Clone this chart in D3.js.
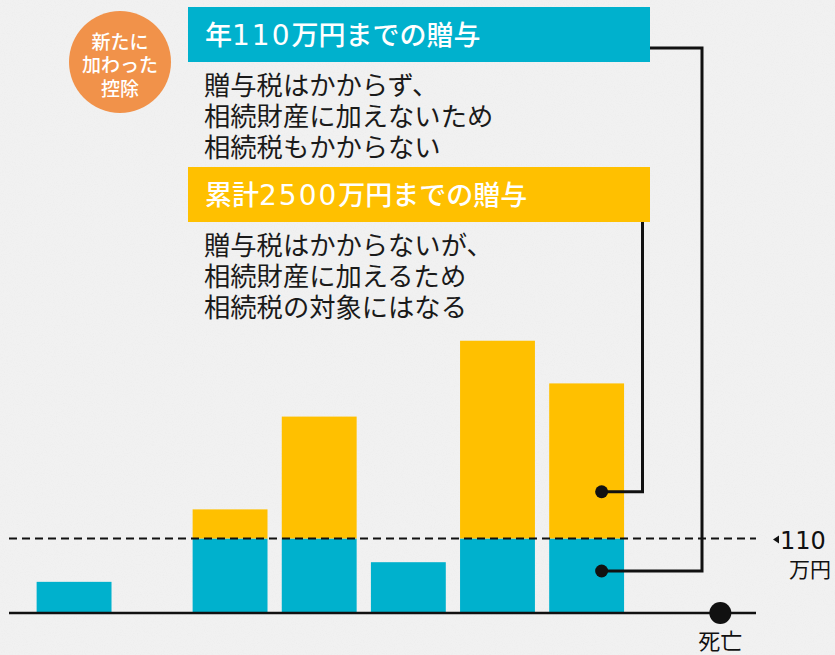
<!DOCTYPE html>
<html>
<head>
<meta charset="utf-8">
<script src="https://cdn.jsdelivr.net/npm/d3@7"></script>
<style>
  html, body { margin: 0; padding: 0; background: #f1f1f1; }
  svg { display: block; font-family: "Noto Sans CJK JP", "Noto Sans", sans-serif; }
</style>
</head>
<body>
<div id="chart"></div>
<script>
// gift timing (years on the timeline) and amounts (万円)
const giftTimes = [0.25, 2, 3, 4, 5, 6];
const annualPart = [46, 110, 110, 75, 110, 110];     // 年110万円までの贈与
const cumulativePart = [0, 43, 180, 0, 292, 229];    // 累計2500万円までの贈与
const deathTime = 7.5;
const thresholdValue = 110;
const thresholdLabel = ["110", "万円"];

const annualTitle = "年110万円までの贈与";
const annualLines = ["贈与税はかからず、", "相続財産に加えないため", "相続税もかからない"];
const cumulTitle = "累計2500万円までの贈与";
const cumulLines = ["贈与税はかからないが、", "相続財産に加えるため", "相続税の対象にはなる"];
const badgeLines = ["新たに", "加わった", "控除"];
const deathLabel = "死亡";
// points on the last bar the callouts point at
const pointerValues = { annual: 62, cumulative: 179 };

const width = 835, height = 655;
const blue = "#00b1cd", yellow = "#ffc000", orange = "#f1924a";
const digitFont = "'DejaVu Sans', 'Noto Sans', sans-serif";

const svg = d3.select("#chart").append("svg")
  .attr("width", width)
  .attr("height", height);

// paper-ish background
const defs = svg.append("defs");
const f = defs.append("filter").attr("id", "paper");
f.append("feTurbulence").attr("type", "fractalNoise").attr("baseFrequency", 0.9).attr("numOctaves", 2).attr("seed", 3);
f.append("feColorMatrix").attr("type", "matrix")
  .attr("values", "0 0 0 0 0.55  0 0 0 0 0.55  0 0 0 0 0.55  0 0 0 -1.6 0.9");
svg.append("rect").attr("width", width).attr("height", height).attr("fill", "#f1f1f1");
svg.append("rect").attr("width", width).attr("height", height).attr("filter", "url(#paper)").attr("opacity", 0.1);

// scales
const x = d3.scaleLinear().domain([-0.48, 7.9]).range([9, 756]);
const y = d3.scaleLinear().domain([0, 440]).range([613, 315]);
const barHalf = 0.42;

const rows = giftTimes.map((t, i) => ({ t: t, annual: annualPart[i], cumulative: cumulativePart[i] }));
const series = d3.stack().keys(["annual", "cumulative"])(rows);
const colors = { annual: blue, cumulative: yellow };

svg.append("g").selectAll("g")
  .data(series)
  .join("g")
  .attr("fill", d => colors[d.key])
  .selectAll("rect")
  .data(d => d.filter(s => s[1] > s[0]))
  .join("rect")
  .attr("x", d => x(d.data.t - barHalf))
  .attr("width", d => x(d.data.t + barHalf) - x(d.data.t - barHalf))
  .attr("y", d => y(d[1]))
  .attr("height", d => y(d[0]) - y(d[1]));

// baseline / timeline
svg.append("line")
  .attr("x1", x.range()[0]).attr("x2", x.range()[1])
  .attr("y1", y(0)).attr("y2", y(0))
  .attr("stroke", "#111").attr("stroke-width", 2.5);

// 110万円 threshold
svg.append("line")
  .attr("x1", x.range()[0]).attr("x2", x.range()[1])
  .attr("y1", y(thresholdValue)).attr("y2", y(thresholdValue))
  .attr("stroke", "#111").attr("stroke-width", 2)
  .attr("stroke-dasharray", "8,5");

const ty = y(thresholdValue);
svg.append("path")
  .attr("d", `M773,${ty + 1} L779,${ty - 3} L779,${ty + 5} Z`)
  .attr("fill", "#111");
svg.append("text")
  .attr("x", 780).attr("y", ty + 2)
  .attr("dy", "0.36em")
  .attr("font-family", digitFont)
  .attr("font-size", 24).attr("fill", "#111")
  .text(thresholdLabel[0]);
svg.append("text")
  .attr("x", 831).attr("y", ty + 31)
  .attr("dy", "0.36em")
  .attr("text-anchor", "end")
  .attr("font-size", 21).attr("fill", "#111")
  .text(thresholdLabel[1]);

// death marker
svg.append("circle")
  .attr("cx", x(deathTime)).attr("cy", y(0))
  .attr("r", 11).attr("fill", "#111");
svg.append("text")
  .attr("x", x(deathTime)).attr("y", 641)
  .attr("dy", "0.36em")
  .attr("text-anchor", "middle")
  .attr("font-size", 22).attr("fill", "#111")
  .text(deathLabel);

// callout boxes; digits in the titles use a wider Latin face like the original
function callout(top, color, title, lines) {
  svg.append("rect")
    .attr("x", 188).attr("y", top)
    .attr("width", 462).attr("height", 55)
    .attr("fill", color);
  const t = svg.append("text")
    .attr("x", 205).attr("y", top + 28)
    .attr("dy", "0.36em")
    .attr("font-size", 27).attr("font-weight", 500)
    .attr("fill", "#fff");
  title.split(/(\d+)/).filter(s => s.length).forEach(part => {
    const sp = t.append("tspan").text(part);
    if (/\d/.test(part)) {
      sp.attr("font-family", digitFont).attr("font-size", 28)
        .attr("font-weight", 400).attr("letter-spacing", 2);
    }
  });
  svg.append("g").selectAll("text")
    .data(lines)
    .join("text")
    .attr("x", 204)
    .attr("y", (d, i) => top + 79 + i * 31)
    .attr("dy", "0.36em")
    .attr("font-size", 26.3)
    .attr("fill", "#1a1a1a")
    .text(d => d);
}
callout(7, blue, annualTitle, annualLines);
callout(167, yellow, cumulTitle, cumulLines);

// connectors to the last bar
const last = giftTimes[giftTimes.length - 1];
const px = x(last) + 15;
const ya = y(pointerValues.annual), yc = y(pointerValues.cumulative);
svg.append("path")
  .attr("d", `M650,48 H702 V${ya} H${px}`)
  .attr("fill", "none").attr("stroke", "#111").attr("stroke-width", 3);
svg.append("path")
  .attr("d", `M642.5,222 V${yc} H${px}`)
  .attr("fill", "none").attr("stroke", "#111").attr("stroke-width", 3);
svg.append("circle").attr("cx", px).attr("cy", ya).attr("r", 6.5).attr("fill", "#111");
svg.append("circle").attr("cx", px).attr("cy", yc).attr("r", 6.5).attr("fill", "#111");

// orange badge
svg.append("circle")
  .attr("cx", 120).attr("cy", 62).attr("r", 51)
  .attr("fill", orange);
svg.append("g").selectAll("text")
  .data(badgeLines)
  .join("text")
  .attr("x", 120)
  .attr("y", (d, i) => 42 + i * 23.5)
  .attr("dy", "0.36em")
  .attr("text-anchor", "middle")
  .attr("font-size", 19).attr("font-weight", 500)
  .attr("fill", "#fff")
  .text(d => d);
</script>
</body>
</html>
